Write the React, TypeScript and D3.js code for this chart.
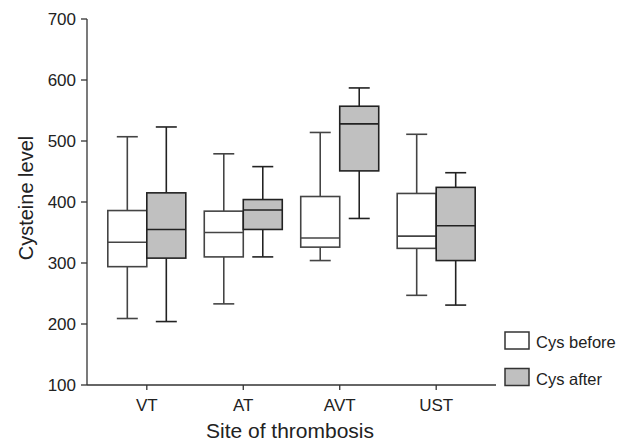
import React from "react";
import * as d3 from "d3";

const categories = ["VT", "AT", "AVT", "UST"];
const seriesNames = ["Cys before", "Cys after"];
const seriesFill = ["#ffffff", "#c0c0c0"];

// [whiskerLow, q1, median, q3, whiskerHigh]
const cysBefore = [
  [209, 294, 334, 386, 507],
  [233, 310, 350, 385, 479],
  [304, 326, 341, 409, 514],
  [247, 324, 344, 414, 511],
];
const cysAfter = [
  [204, 308, 355, 415, 523],
  [310, 355, 387, 404, 458],
  [373, 451, 528, 557, 587],
  [231, 304, 361, 424, 448],
];
const yTicks = [100, 200, 300, 400, 500, 600, 700];

const W = 617;
const H = 443;
const font = "'Liberation Sans', Arial, Helvetica, sans-serif";

export default function App() {
  const x = d3.scalePoint<string>().domain(categories).range([87, 496]).padding(0.62);
  const y = d3.scaleLinear().domain([100, 700]).range([385, 19]);
  const boxW = 39;
  const capW = 21;
  const series = [cysBefore, cysAfter];

  return (
    <svg width={W} height={H} style={{ position: "absolute", left: 0, top: 0, background: "#fff" }}>
      {/* axes */}
      <line x1={87} x2={87} y1={y(700)} y2={y(100)} stroke="#333" strokeWidth={1.3} />
      <line x1={87} x2={496} y1={y(100)} y2={y(100)} stroke="#333" strokeWidth={1.3} />
      {yTicks.map((t) => (
        <g key={t}>
          <line x1={81} x2={87} y1={y(t)} y2={y(t)} stroke="#333" strokeWidth={1.3} />
          <text x={76} y={y(t)} dy="0.36em" textAnchor="end" fontFamily={font} fontSize={17} fill="#222">
            {t}
          </text>
        </g>
      ))}
      {categories.map((c) => (
        <g key={c}>
          <line x1={x(c)} x2={x(c)} y1={y(100)} y2={y(100) + 5} stroke="#333" strokeWidth={1.3} />
          <text x={x(c)} y={411} textAnchor="middle" fontFamily={font} fontSize={17} fill="#222">
            {c}
          </text>
        </g>
      ))}
      <text
        transform={`translate(33,${(y(700) + y(100)) / 2 - 4}) rotate(-90)`}
        textAnchor="middle"
        fontFamily={font}
        fontSize={20}
        fill="#222"
      >
        Cysteine level
      </text>
      <text x={290} y={438} textAnchor="middle" fontFamily={font} fontSize={21} fill="#222">
        Site of thrombosis
      </text>

      {/* boxes */}
      {series.map((s, si) =>
        s.map((d, ci) => {
          const cx0 = (x(categories[ci]) as number) + (si === 0 ? -boxW : 0);
          const mid = cx0 + boxW / 2;
          const [lo, q1, med, q3, hi] = d;
          const stroke = si === 0 ? "#444" : "#222";
          return (
            <g key={`${si}-${ci}`} stroke={stroke} strokeWidth={1.6}>
              <line x1={mid} x2={mid} y1={y(hi)} y2={y(q3)} />
              <line x1={mid} x2={mid} y1={y(q1)} y2={y(lo)} />
              <line x1={mid - capW / 2} x2={mid + capW / 2} y1={y(hi)} y2={y(hi)} />
              <line x1={mid - capW / 2} x2={mid + capW / 2} y1={y(lo)} y2={y(lo)} />
              <rect x={cx0} y={y(q3)} width={boxW} height={y(q1) - y(q3)} fill={seriesFill[si]} />
              <line x1={cx0} x2={cx0 + boxW} y1={y(med)} y2={y(med)} />
            </g>
          );
        })
      )}

      {/* legend */}
      {seriesNames.map((n, i) => (
        <g key={n} transform={`translate(505,${332 + i * 36.5})`}>
          <rect width={24} height={17} fill={seriesFill[i]} stroke="#333" strokeWidth={1.5} />
          <text x={31} y={16} fontFamily={font} fontSize={16.5} fill="#222">
            {n}
          </text>
        </g>
      ))}
    </svg>
  );
}
